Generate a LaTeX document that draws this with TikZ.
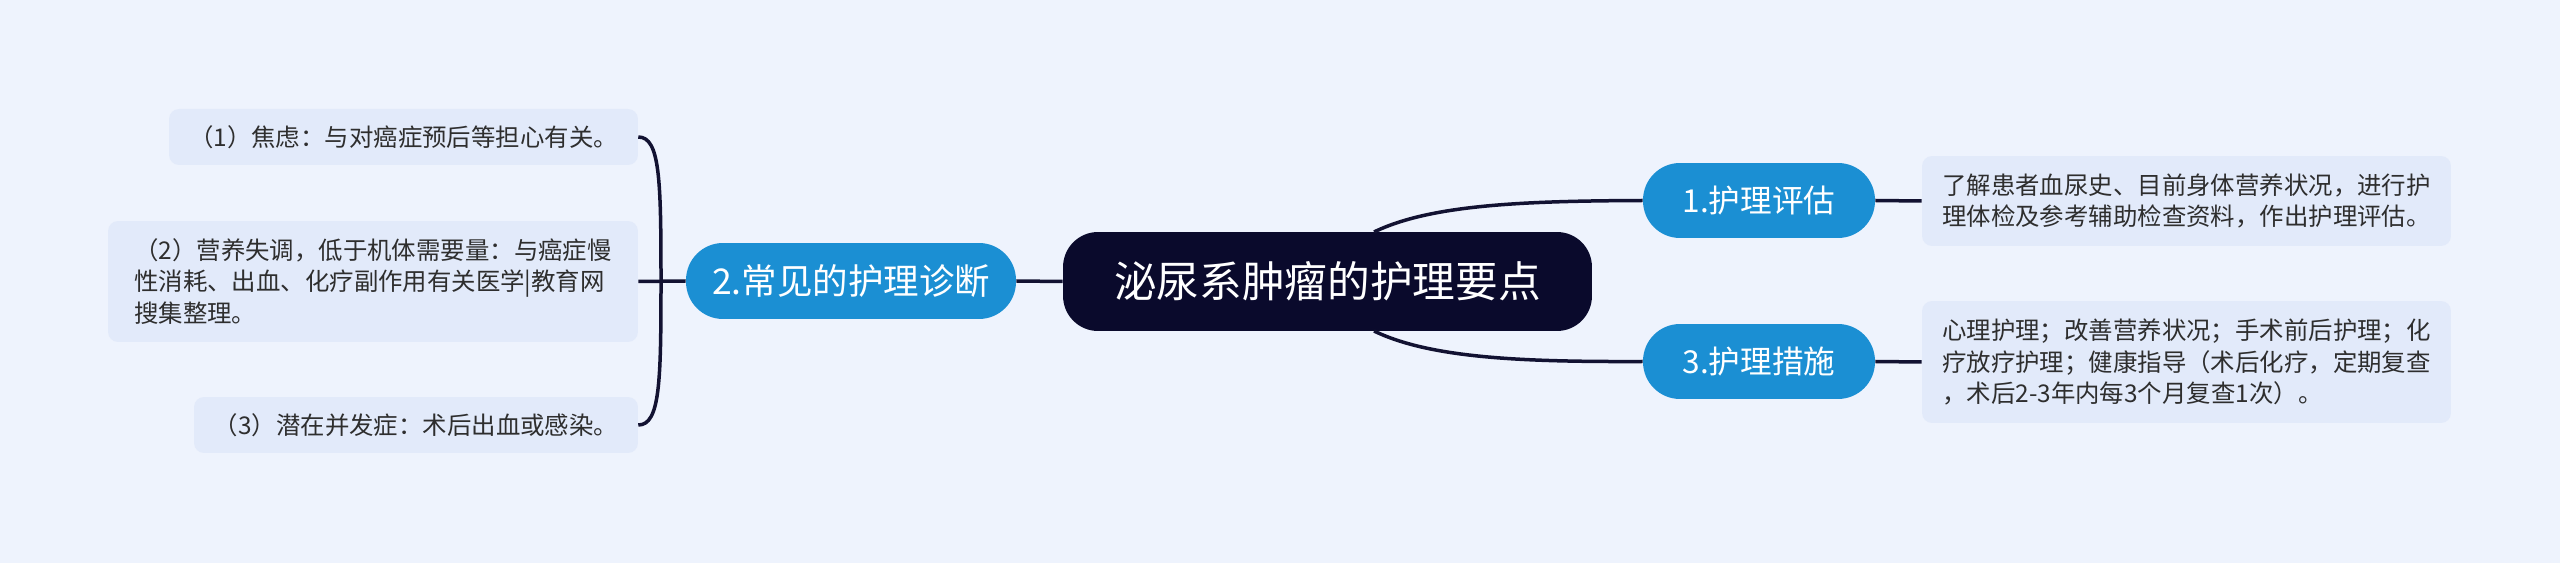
\documentclass[tikz,border=0pt]{standalone}
\usepackage{fontspec}
\newfontfamily\cjk{Noto Sans CJK SC}
\usetikzlibrary{calc}

\definecolor{bgblue}{HTML}{EEF3FD}
\definecolor{leafblue}{HTML}{E2EAFA}
\definecolor{nodeblue}{HTML}{1B8FD3}
\definecolor{rootnavy}{HTML}{0A0A2C}
\definecolor{linknavy}{HTML}{121232}
\definecolor{leaftext}{HTML}{2E2E2E}

\tikzset{
	leaf/.style={fill=leafblue, rounded corners=0.2cm, text=leaftext, align=left,
		font=\cjk\fontsize{13.9}{18.1}\selectfont},
	branch/.style={fill=nodeblue, rounded corners=0.74cm, text=white,
		minimum width=4.64cm, minimum height=1.5cm},
	link/.style={line width=0.07cm, color=linknavy},
}

\begin{document}
\begin{tikzpicture}[x=0.02cm, y=-0.02cm]
			%%%%% START %%%%%
			
			\useasboundingbox (0, 0) rectangle (2560, 563);
			\fill[bgblue] (0, 0) rectangle (2560, 563);
			
			\node[fill=rootnavy, rounded corners=0.7cm, text=white, minimum width=10.58cm, minimum height=1.98cm,
				font=\cjk\fontsize{24.3}{28}\selectfont] (root) at (1327.5, 281.5) {泌尿系肿瘤的护理要点};
			
			\node[branch, minimum width=6.6cm, minimum height=1.52cm, font=\cjk\fontsize{20.2}{24}\selectfont]
				(diag) at (851, 281) {2.常见的护理诊断};
			\node[branch, font=\cjk\fontsize{18}{22}\selectfont] (eval) at (1759, 200.5) {1.护理评估};
			\node[branch, font=\cjk\fontsize{18}{22}\selectfont] (meas) at (1759, 361.5) {3.护理措施};
			
			\node[leaf, minimum width=9.38cm, minimum height=1.12cm] (anx) at (403.5, 137) {（1）焦虑：与对癌症预后等担心有关。};
			\node[leaf, minimum width=10.6cm, minimum height=2.42cm] (nutr) at (373, 281.5)
				{（2）营养失调，低于机体需要量：与癌症慢\\性消耗、出血、化疗副作用有关医学|教育网\\搜集整理。};
			\node[leaf, minimum width=8.88cm, minimum height=1.12cm] (comp) at (416, 425) {（3）潜在并发症：术后出血或感染。};
			
			\node[leaf, minimum width=10.58cm, minimum height=1.8cm] (evaltxt) at (2186.5, 201)
				{了解患者血尿史、目前身体营养状况，进行护\\理体检及参考辅助检查资料，作出护理评估。};
			\node[leaf, minimum width=10.58cm, minimum height=2.44cm] (meastxt) at (2186.5, 362)
				{心理护理；改善营养状况；手术前后护理；化\\疗放疗护理；健康指导（术后化疗，定期复查\\，术后2-3年内每3个月复查1次）。};
			
			% left side
			\coordinate (fork) at (661, 281);
			\draw[link] (root.west) -- (diag.east);
			\draw[link] (diag.west) -- (nutr.east);
			\draw[link] (fork) .. controls (661, 180) and (660, 137) .. (anx.east);
			\draw[link] (fork) .. controls (661, 382) and (660, 425) .. (comp.east);
			
			% right side
			\coordinate (roottop) at (1374, 232);
			\coordinate (rootbot) at (1374, 331);
			\draw[link] (roottop) .. controls (1430, 205) and (1520, 201) .. (eval.west);
			\draw[link] (rootbot) .. controls (1430, 358) and (1520, 362) .. (meas.west);
			\draw[link] (eval.east) -- (evaltxt.west);
			\draw[link] (meas.east) -- (meastxt.west);
			
			%%%%% END %%%%%
\end{tikzpicture}
\end{document}
